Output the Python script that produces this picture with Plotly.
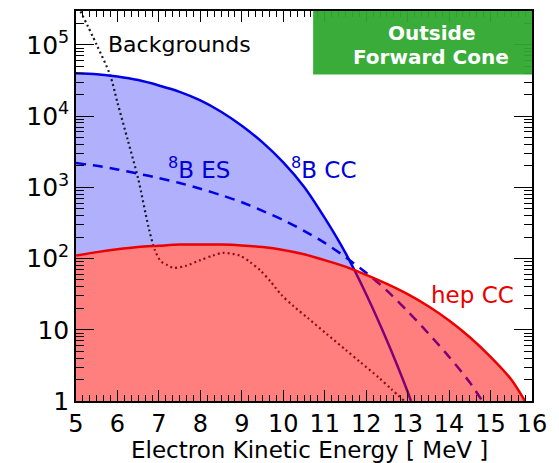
import plotly.graph_objects as go

# Electron kinetic energy grids (MeV) and event counts for each component
e_cc = [5.0, 5.5, 6.0, 6.5, 7.0, 7.5, 8.0, 8.5, 9.0, 9.5, 10.0, 10.5, 11.0, 11.5,
        12.0, 12.5, 13.0, 13.08]
n_cc = [39800, 38700, 35900, 32000, 26900, 21900, 16600, 11500, 7310, 4270, 2240,
        1020, 372, 120, 31.6, 7.08, 1.35, 1.0]

e_es = [5.0, 5.5, 6.0, 6.5, 7.0, 7.5, 8.0, 8.5, 9.0, 9.5, 10.0, 10.5, 11.0, 11.5,
        12.0, 12.5, 13.0, 13.5, 14.0, 14.5, 14.8]
n_es = [2190, 2000, 1780, 1550, 1350, 1150, 955, 776, 617, 468, 347, 245, 166, 105,
        63, 35.5, 18.2, 8.9, 4.17, 1.82, 1.0]

e_hep = [5.0, 5.5, 6.0, 6.5, 7.0, 7.5, 8.0, 8.5, 9.0, 9.5, 10.0, 10.5, 11.0, 11.5,
         12.0, 12.5, 13.0, 13.5, 14.0, 14.5, 15.0, 15.5, 15.83]
n_hep = [110, 123, 135, 145, 151, 157, 158, 157, 153, 145, 132, 115, 95, 77, 59, 44,
         31.6, 21.4, 13.5, 7.85, 4.17, 2.0, 1.0]

e_bkg = [5.0, 5.5, 5.82, 6.0, 6.25, 6.5, 6.75, 6.9, 7.05, 7.2, 7.35, 7.65, 8.0, 8.3,
         8.55, 8.95, 9.2, 9.45, 9.7, 9.95, 10.25, 10.6, 11.05, 11.5, 11.85, 12.3,
         12.6, 12.92]
n_bkg = [398000, 100000, 38000, 15500, 4570, 1320, 275, 132, 91, 81, 74, 79, 95, 110,
         120, 110, 89, 68, 47, 31, 21.4, 14.5, 8.7, 5.25, 3.55, 2.14, 1.48, 1.0]

x_ticks = [5, 6, 7, 8, 9, 10, 11, 12, 13, 14, 15, 16]
y_ticks = [1, 10, 100, 1000, 10000, 100000]
y_ticktext = ["1", "10", "10<sup>2</sup>", "10<sup>3</sup>", "10<sup>4</sup>", "10<sup>5</sup>"]

FLOOR = 0.1  # fills are closed below the visible range
FONT = "DejaVu Sans"
BLUE = "rgb(0,0,230)"
RED = "rgb(235,0,0)"

fig = go.Figure()


def base(xs):
    fig.add_trace(go.Scatter(x=[xs[0], xs[-1]], y=[FLOOR, FLOOR], mode="lines",
                             line=dict(width=0), showlegend=False, hoverinfo="skip"))


def filled(xs, ys, fillcolor, line):
    base(xs)
    fig.add_trace(go.Scatter(x=xs, y=ys, mode="lines", fill="tonexty",
                             fillcolor=fillcolor, line=line, line_shape="spline",
                             line_smoothing=0.8, showlegend=False, hoverinfo="skip"))


# 8B CC area
filled(e_cc, n_cc, "rgb(176,176,252)", dict(width=0))
# clear the area under hep CC before drawing the curves
filled(e_hep, n_hep, "white", dict(width=0))

# curves
fig.add_trace(go.Scatter(x=e_bkg, y=n_bkg, mode="lines", line_shape="spline",
                         line_smoothing=0.8,
                         line=dict(color="rgb(25,25,45)", width=2.2, dash="2px,3px"),
                         showlegend=False))
fig.add_trace(go.Scatter(x=e_es, y=n_es, mode="lines", line_shape="spline",
                         line_smoothing=0.8,
                         line=dict(color=BLUE, width=2.5, dash="10px,7px"),
                         showlegend=False))
fig.add_trace(go.Scatter(x=e_cc, y=n_cc, mode="lines", line_shape="spline",
                         line_smoothing=0.8,
                         line=dict(color=BLUE, width=2.5), showlegend=False))

# translucent hep CC area on top
filled(e_hep, n_hep, "rgba(255,0,0,0.5)", dict(color=RED, width=2.5))

minor_y = [k * 10 ** p for p in range(0, 6) for k in range(2, 10)]

fig.update_xaxes(range=[5, 16], tickvals=x_ticks, ticks="inside", ticklen=11,
                 tickwidth=1.2, tickcolor="black", showline=True, linecolor="black",
                 linewidth=1.6, mirror="ticks", showgrid=False, zeroline=False,
                 tickfont=dict(family=FONT, size=24, color="black"),
                 minor=dict(dtick=1 / 6, ticks="inside", ticklen=6, tickcolor="black",
                            tickwidth=1, showgrid=False))
fig.update_yaxes(type="log", range=[0, 5.475], tickvals=y_ticks, ticktext=y_ticktext,
                 ticks="inside", ticklen=18, tickwidth=1.2, tickcolor="black",
                 showline=True, linecolor="black", linewidth=1.6, mirror="ticks",
                 showgrid=False, zeroline=False,
                 tickfont=dict(family=FONT, size=25, color="black"),
                 minor=dict(tickvals=minor_y, ticks="inside", ticklen=8,
                            tickcolor="black", tickwidth=1, showgrid=False))

fig.add_shape(type="rect", xref="paper", yref="paper", x0=0.52, x1=1.0, y0=0.837, y1=1.0,
              fillcolor="rgba(46,168,46,0.95)", line=dict(width=0), layer="above")

ann = [
    dict(text="Backgrounds", x=0.066, y=0.915, xanchor="left", color="black", size=22),
    dict(text="<sup>8</sup>B ES", x=0.197, y=0.597, xanchor="left", color="rgb(0,0,215)", size=23),
    dict(text="<sup>8</sup>B CC", x=0.467, y=0.597, xanchor="left", color="rgb(0,0,215)", size=23),
    dict(text="hep CC", x=0.774, y=0.273, xanchor="left", color=RED, size=23),
    dict(text="<b>Outside</b>", x=0.780, y=0.944, xanchor="center", color="white", size=20),
    dict(text="<b>Forward Cone</b>", x=0.779, y=0.882, xanchor="center", color="white", size=20),
    dict(text="Electron Kinetic Energy [ MeV ]", x=0.513, y=-0.126, xanchor="center",
         color="black", size=23),
]
for a in ann:
    fig.add_annotation(text=a["text"], x=a["x"], y=a["y"], xref="paper", yref="paper",
                       xanchor=a["xanchor"], yanchor="middle", showarrow=False,
                       font=dict(family=FONT, size=a["size"], color=a["color"]))

fig.update_layout(width=559, height=463, margin=dict(l=76, r=27, t=9, b=62),
                  paper_bgcolor="white", plot_bgcolor="white",
                  font=dict(family=FONT), showlegend=False)

fig.write_html("out.html")
